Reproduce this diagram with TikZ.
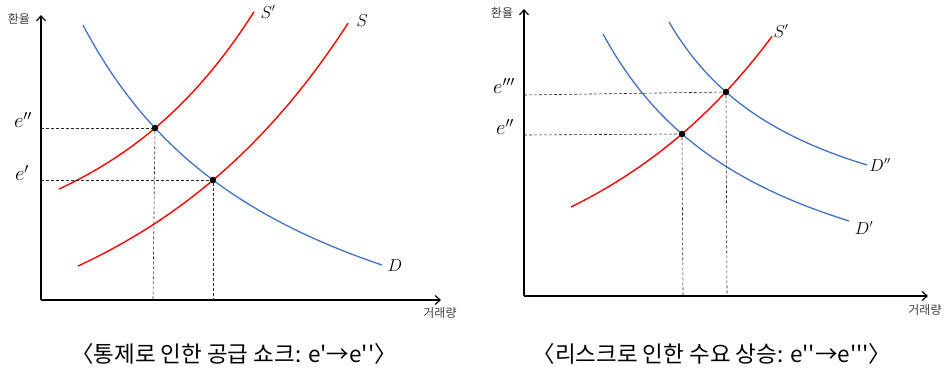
\documentclass[tikz,border=0pt]{standalone}
\usepackage{fontspec}
\newfontfamily\kr{Noto Sans CJK KR}[Ligatures=TeXOff]
\usetikzlibrary{arrows.meta}
\definecolor{sred}{RGB}{255,0,0}
\definecolor{dblue}{RGB}{68,114,196}
\tikzset{
  axis/.style={line width=1.4pt,-{Straight Barb[length=5pt,width=9pt,line width=1.2pt]}},
  supply/.style={sred,line width=1.4pt},
  demand/.style={dblue,line width=1.3pt},
  guide/.style={line width=0.6pt,dash pattern=on 3pt off 2pt,black!85},
  eqdot/.style={circle,fill=black,inner sep=0pt,minimum size=6.5pt},
  axlabel/.style={font=\kr\fontsize{12}{14}\selectfont,text=black!75},
  elabel/.style={font=\fontsize{20}{22}\selectfont},
  clabel/.style={font=\fontsize{16}{18}\selectfont},
  caption/.style={font=\kr\fontsize{22.5}{26}\selectfont},
}
\begin{document}
\begin{tikzpicture}[x=1pt,y=-1pt]
\useasboundingbox (0,0) rectangle (946,370);
% ---------- left panel ----------
\coordinate (LO) at (41,300);
\coordinate (LY) at (41,15);
\coordinate (LX) at (441,300);
\draw[axis] (LO) -- (LY);
\draw[axis] (LO) -- (LX);
\node[axlabel] (Lyl) at (19,19) {환율};
\node[axlabel] (Lxl) at (440,313) {거래량};
\draw[demand] plot[domain=83:382,samples=90] (\x,{440.1-905.3/((\x+135.1)/100)});
\draw[supply] plot[domain=59:254,samples=90] (\x,{262-50.3*exp(0.00632*\x)});
\draw[supply] plot[domain=78:348,samples=90] (\x,{370.17-73.58*exp(0.004456*\x)});
\node[eqdot] (L1) at (155,128) {};
\node[eqdot] (L2) at (213,180) {};
\coordinate (L1y) at (41,128);
\coordinate (L2y) at (41,180);
\coordinate (L1x) at (153,300);
\coordinate (L2x) at (213,300);
\draw[guide] (L1y) -- (L1);
\draw[guide] (L2y) -- (L2);
\draw[guide] (L1) -- (L1x);
\draw[guide] (L2) -- (L2x);
\node[elabel] (Le2) at (23,120) {$e''$};
\node[elabel] (Le1) at (22,173) {$e'$};
\node[clabel] (LSp) at (268,12) {$S'$};
\node[clabel] (LS) at (362,21) {$S$};
\node[clabel] (LD) at (395,266) {$D$};
\node[caption] (Lcap) at (234,354) {〈통제로 인한 공급 쇼크: e'→e''〉};
% ---------- right panel ----------
\coordinate (RO) at (524,296);
\coordinate (RY) at (524,9);
\coordinate (RX) at (928,296);
\draw[axis] (RO) -- (RY);
\draw[axis] (RO) -- (RX);
\node[axlabel] (Ryl) at (502,13) {환율};
\node[axlabel] (Rxl) at (925,310) {거래량};
\draw[supply] plot[domain=571:772,samples=90] (\x,{305.4-98.4*exp(0.005*(\x-571))});
\draw[demand] plot[domain=603:849,samples=90] (\x,{351.8-547.01/((\x-430.9)/100)});
\draw[demand] plot[domain=669:867,samples=90] (\x,{269.2-356.73/((\x-524.7)/100)});
\node[eqdot] (R1) at (682,134) {};
\node[eqdot] (R2) at (726,92) {};
\coordinate (R1y) at (524,135);
\coordinate (R2y) at (524,95);
\coordinate (R1x) at (683,296);
\coordinate (R2x) at (727,296);
\draw[guide] (R1y) -- (R1);
\draw[guide] (R2y) -- (R2);
\draw[guide] (R1) -- (R1x);
\draw[guide] (R2) -- (R2x);
\node[elabel] (Re3) at (504,86) {$e'''$};
\node[elabel] (Re2) at (505,127) {$e''$};
\node[clabel] (RSp) at (781,31) {$S'$};
\node[clabel] (RDpp) at (880,165) {$D''$};
\node[clabel] (RDp) at (864,228) {$D'$};
\node[caption] (Rcap) at (712,354) {〈리스크로 인한 수요 상승: e''→e'''〉};
\end{tikzpicture}
\end{document}
